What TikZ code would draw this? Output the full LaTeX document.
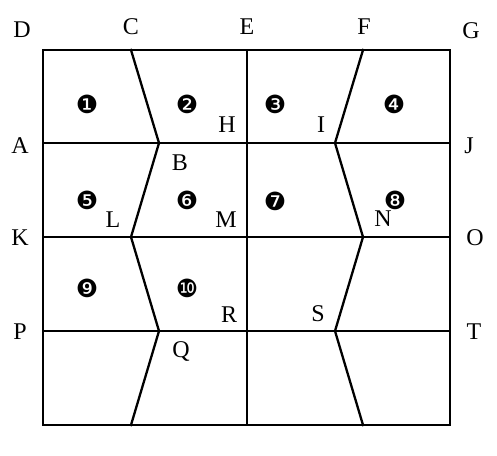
\documentclass[tikz,border=0pt]{standalone}
\usepackage{fontspec}
\setmainfont{Liberation Serif}
\newfontfamily\dingfont{DejaVu Sans}
\begin{document}
\begin{tikzpicture}[x=1pt,y=-1pt,
  lbl/.style={inner sep=0pt,font=\fontsize{24}{24}\selectfont},
  num/.style={inner sep=0pt,font=\dingfont\fontsize{25}{25}\selectfont},
  edge/.style={line width=2.3pt,line cap=rect}]
\useasboundingbox (0,0) rectangle (497,455);
% frame corners and grid points
\coordinate (tl) at (43,50);
\coordinate (br) at (450,425);
\coordinate (c1) at (131,50);
\coordinate (b1) at (159,143);
\coordinate (l1) at (131,237);
\coordinate (q1) at (159,331);
\coordinate (d1) at (131,425);
\coordinate (c2) at (363,50);
\coordinate (b2) at (335,143);
\coordinate (l2) at (363,237);
\coordinate (q2) at (335,331);
\coordinate (d2) at (363,425);
\coordinate (et) at (247,50);
\coordinate (eb) at (247,425);
\coordinate (ha) at (43,143);
\coordinate (hj) at (450,143);
\coordinate (hk) at (43,237);
\coordinate (ho) at (450,237);
\coordinate (hp) at (43,331);
\coordinate (ht) at (450,331);
\draw[edge] (tl) rectangle (br);
\draw[edge] (ha) -- (hj);
\draw[edge] (hk) -- (ho);
\draw[edge] (hp) -- (ht);
\draw[edge] (et) -- (eb);
\draw[edge,line join=miter] (c1) -- (b1) -- (l1) -- (q1) -- (d1);
\draw[edge,line join=miter] (c2) -- (b2) -- (l2) -- (q2) -- (d2);
% letters
\node[lbl] (D) at (22,30) {D};
\node[lbl] (C) at (131,27) {C};
\node[lbl] (E) at (247,27) {E};
\node[lbl] (F) at (364,27) {F};
\node[lbl] (G) at (471,31) {G};
\node[lbl] (A) at (20,146) {A};
\node[lbl] (J) at (469,146) {J};
\node[lbl] (K) at (20,238) {K};
\node[lbl] (O) at (475,238) {O};
\node[lbl] (P) at (20,332) {P};
\node[lbl] (T) at (474,332) {T};
\node[lbl] (B) at (180,163) {B};
\node[lbl] (H) at (227,125) {H};
\node[lbl] (I) at (321,125) {I};
\node[lbl] (L) at (113,220) {L};
\node[lbl] (M) at (226,220) {M};
\node[lbl] (N) at (383,219) {N};
\node[lbl] (R) at (229,315) {R};
\node[lbl] (S) at (318,314) {S};
\node[lbl] (Q) at (181,351) {Q};
% numbers
\node[num] (n1) at (87,104) {❶};
\node[num] (n2) at (187,104) {❷};
\node[num] (n3) at (275,104) {❸};
\node[num] (n4) at (394,104) {❹};
\node[num] (n5) at (87,200) {❺};
\node[num] (n6) at (187,200) {❻};
\node[num] (n7) at (275,201) {❼};
\node[num] (n8) at (395,200) {❽};
\node[num] (n9) at (87,288) {❾};
\node[num] (n10) at (187,288) {❿};
\end{tikzpicture}
\end{document}
